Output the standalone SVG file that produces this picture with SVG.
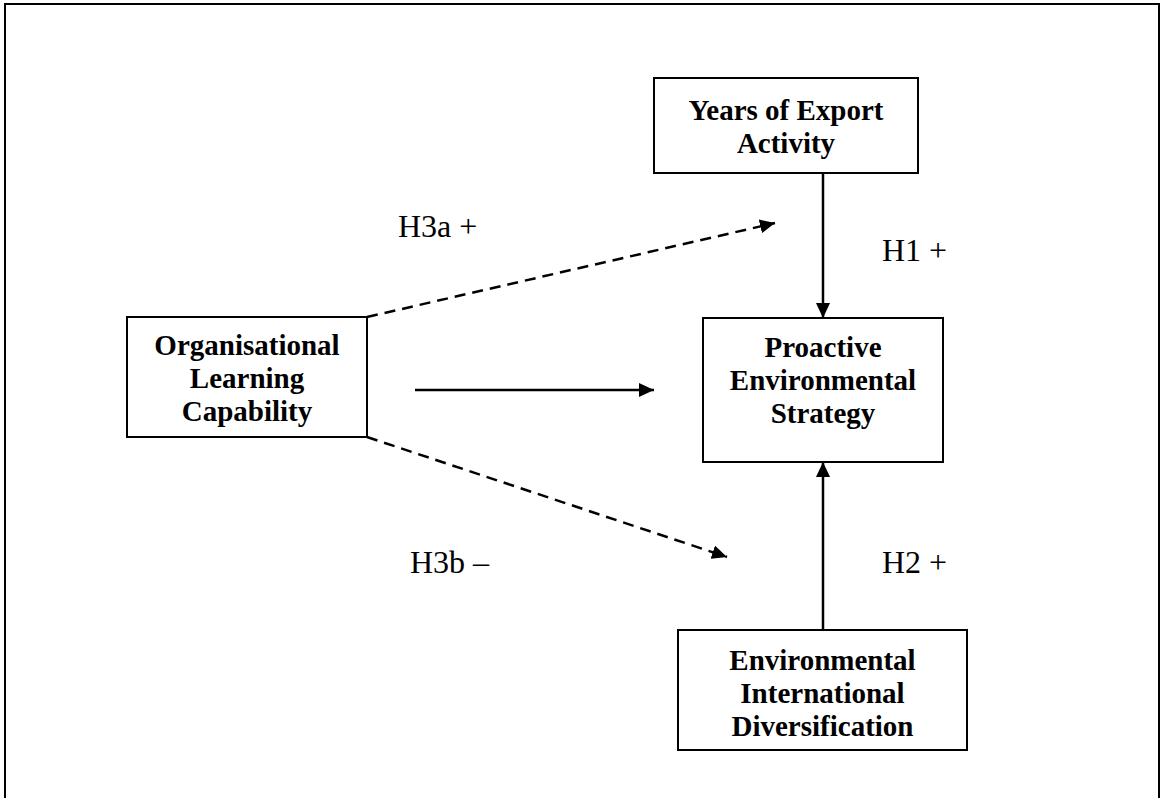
<svg xmlns="http://www.w3.org/2000/svg" width="1160" height="798" viewBox="0 0 1160 798">
<style>
.box{fill:#fff;stroke:#000;stroke-width:2}
.bt{font-family:"Liberation Serif","Times New Roman",serif;font-weight:bold;font-size:29px;fill:#000;text-anchor:middle}
.lb{font-family:"Liberation Serif","Times New Roman",serif;font-size:32px;fill:#000}
.ln{stroke:#000;stroke-width:2.5;fill:none}
.dash{stroke-dasharray:11 7}
</style>
<defs>
<marker id="ah" markerUnits="userSpaceOnUse" markerWidth="16" markerHeight="14" refX="15" refY="7" orient="auto">
<path d="M0,0 L15,7 L0,14 z" fill="#000"/>
</marker>
</defs>
<rect width="1160" height="798" fill="#fff"/>
<rect x="5" y="4" width="1154" height="800" fill="none" stroke="#000" stroke-width="2"/>
<g id="connectors">
<line class="ln" x1="823" y1="173" x2="823" y2="318" marker-end="url(#ah)"/>
<line class="ln" x1="823" y1="630" x2="823" y2="462" marker-end="url(#ah)"/>
<line class="ln" x1="415" y1="390" x2="654" y2="390" marker-end="url(#ah)"/>
<line class="ln dash" x1="367" y1="317" x2="775" y2="223" marker-end="url(#ah)"/>
<line class="ln dash" x1="367" y1="437" x2="727" y2="557" marker-end="url(#ah)"/>
</g>
<g id="labels">
<text class="lb" x="398" y="237">H3a +</text>
<text class="lb" x="882" y="261">H1 +</text>
<text class="lb" x="410" y="573">H3b –</text>
<text class="lb" x="882" y="573">H2 +</text>
</g>
<g id="node-olc">
<rect class="box" x="127" y="317" width="240" height="120"/>
<text class="bt" x="247" y="355">Organisational</text>
<text class="bt" x="247" y="388">Learning</text>
<text class="bt" x="247" y="421">Capability</text>
</g>
<g id="node-yea">
<rect class="box" x="654" y="78" width="264" height="95"/>
<text class="bt" x="786" y="120">Years of Export</text>
<text class="bt" x="786" y="153">Activity</text>
</g>
<g id="node-pes">
<rect class="box" x="703" y="318" width="240" height="144"/>
<text class="bt" x="823" y="357">Proactive</text>
<text class="bt" x="823" y="390">Environmental</text>
<text class="bt" x="823" y="423">Strategy</text>
</g>
<g id="node-eid">
<rect class="box" x="678" y="630" width="289" height="120"/>
<text class="bt" x="822.5" y="670">Environmental</text>
<text class="bt" x="822.5" y="703">International</text>
<text class="bt" x="822.5" y="736">Diversification</text>
</g>
</svg>
